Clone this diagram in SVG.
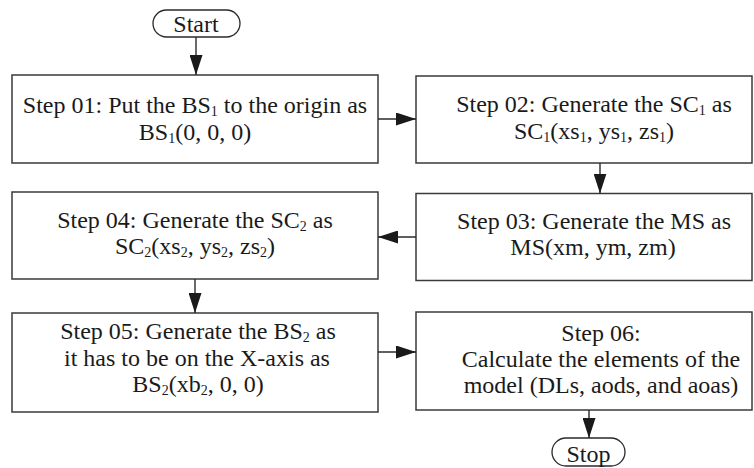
<svg xmlns="http://www.w3.org/2000/svg" width="754" height="468" viewBox="0 0 754 468">
  <defs>
    <marker id="arr" markerUnits="userSpaceOnUse" markerWidth="20" markerHeight="13" refX="20" refY="6.5" orient="auto">
      <path d="M0,0 L20,6.5 L0,13 z" fill="#1a1a1a"/>
    </marker>
    <style>
      .box { fill: #ffffff; stroke: #3a3a3a; stroke-width: 1.5; }
      .term { fill: #ffffff; stroke: #2a2a2a; stroke-width: 1.3; }
      .t { font-family: "Liberation Serif", "Times New Roman", serif; font-size: 24px; fill: #1a1a1a; text-anchor: middle; }
      .s { font-size: 14px; }
      .conn { stroke: #2a2a2a; stroke-width: 1.4; fill: none; marker-end: url(#arr); }
    </style>
  </defs>
  <rect width="754" height="468" fill="#ffffff"/>

  <g id="start">
    <rect class="term" x="153" y="10" width="87" height="27" rx="13.5" ry="13.5"/>
    <text class="t" x="196" y="32">Start</text>
  </g>

  <g id="step01">
    <rect class="box" x="12" y="75" width="366" height="88"/>
    <text class="t" x="195" y="113">Step 01: Put the BS<tspan class="s" dy="3">1</tspan><tspan dy="-3"> to the origin as</tspan></text>
    <text class="t" x="195" y="139.5">BS<tspan class="s" dy="3">1</tspan><tspan dy="-3">(0, 0, 0)</tspan></text>
  </g>

  <g id="step02">
    <rect class="box" x="416" y="76" width="336" height="87"/>
    <text class="t" x="594" y="112">Step 02: Generate the SC<tspan class="s" dy="3">1</tspan><tspan dy="-3"> as</tspan></text>
    <text class="t" x="594" y="138.5">SC<tspan class="s" dy="3">1</tspan><tspan dy="-3">(xs</tspan><tspan class="s" dy="3">1</tspan><tspan dy="-3">, ys</tspan><tspan class="s" dy="3">1</tspan><tspan dy="-3">, zs</tspan><tspan class="s" dy="3">1</tspan><tspan dy="-3">)</tspan></text>
  </g>

  <g id="step03">
    <rect class="box" x="416" y="193.5" width="336" height="87"/>
    <text class="t" x="594" y="228.5">Step 03: Generate the MS as</text>
    <text class="t" x="593" y="255">MS(xm, ym, zm)</text>
  </g>

  <g id="step04">
    <rect class="box" x="12" y="192" width="366" height="87"/>
    <text class="t" x="195" y="227.5">Step 04: Generate the SC<tspan class="s" dy="3">2</tspan><tspan dy="-3"> as</tspan></text>
    <text class="t" x="195" y="254">SC<tspan class="s" dy="3">2</tspan><tspan dy="-3">(xs</tspan><tspan class="s" dy="3">2</tspan><tspan dy="-3">, ys</tspan><tspan class="s" dy="3">2</tspan><tspan dy="-3">, zs</tspan><tspan class="s" dy="3">2</tspan><tspan dy="-3">)</tspan></text>
  </g>

  <g id="step05">
    <rect class="box" x="12" y="313" width="366" height="99"/>
    <text class="t" x="198" y="339">Step 05: Generate the BS<tspan class="s" dy="3">2</tspan><tspan dy="-3"> as</tspan></text>
    <text class="t" x="197" y="365.5">it has to be on the X-axis as</text>
    <text class="t" x="198" y="392">BS<tspan class="s" dy="3">2</tspan><tspan dy="-3">(xb</tspan><tspan class="s" dy="3">2</tspan><tspan dy="-3">, 0, 0)</tspan></text>
  </g>

  <g id="step06">
    <rect class="box" x="416" y="312" width="336" height="98"/>
    <text class="t" x="601" y="340.5">Step 06:</text>
    <text class="t" x="601" y="366.5">Calculate the elements of the</text>
    <text class="t" x="601" y="392.5">model (DLs, aods, and aoas)</text>
  </g>

  <g id="stop">
    <rect class="term" x="552" y="438" width="73" height="28" rx="14" ry="14"/>
    <text class="t" x="588.5" y="462">Stop</text>
  </g>

  <g id="connectors">
    <line class="conn" x1="196" y1="37" x2="196" y2="75"/>
    <line class="conn" x1="378" y1="119" x2="416" y2="119"/>
    <line class="conn" x1="600" y1="163" x2="600" y2="193.5"/>
    <line class="conn" x1="416" y1="237" x2="378" y2="237"/>
    <line class="conn" x1="195" y1="279" x2="195" y2="313"/>
    <line class="conn" x1="378" y1="352" x2="416" y2="352"/>
    <line class="conn" x1="589" y1="410" x2="589" y2="438"/>
  </g>
</svg>
